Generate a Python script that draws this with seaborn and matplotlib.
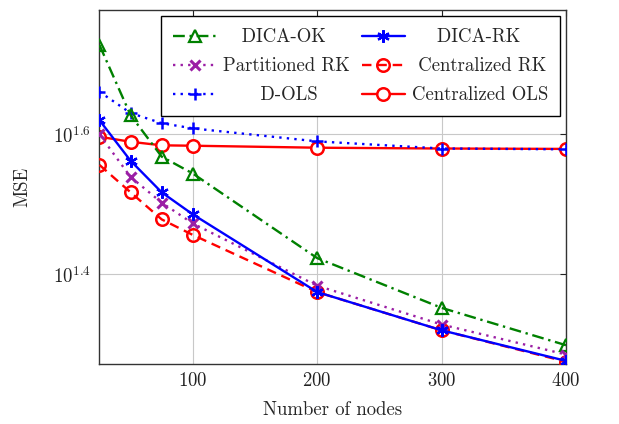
import matplotlib
matplotlib.use("Agg")
import matplotlib.pyplot as plt
import seaborn as sns
import pandas as pd
import numpy as np
from matplotlib.ticker import NullLocator, FixedLocator, FixedFormatter

nodes = [25, 50, 75, 100, 200, 300, 400]
dica_ok = [53.4, 42.4, 37.0, 35.0, 26.5, 22.5, 19.9]
dica_rk = [41.7, 36.5, 32.9, 30.6, 23.7, 20.9, 18.9]
part_rk = [39.8, 34.6, 31.8, 29.7, 24.2, 21.3, 19.3]
cent_rk = [36.0, 32.9, 30.1, 28.6, 23.7, 20.9, 18.85]
d_ols = [45.8, 42.7, 41.3, 40.6, 38.9, 38.0, 37.9]
cent_ols = [39.5, 38.85, 38.4, 38.35, 38.1, 38.0, 37.95]

sns.set_style("white")
plt.rcParams['font.family'] = ['serif']
plt.rcParams['font.serif'] = ['cmr10', 'DejaVu Serif']
plt.rcParams['mathtext.fontset'] = 'cm'
plt.rcParams['axes.formatter.use_mathtext'] = True
plt.rcParams['font.size'] = 13.5

fig = plt.figure(figsize=(6.19, 4.24), dpi=100)
ax = fig.add_axes([0.1607, 0.1415, 0.9144 - 0.1607, 0.9764 - 0.1415])

green = '#008000'
blue = '#0000ff'
purple = '#9b1fa5'
red = '#ff0000'

series = [
    ("Centralized OLS", cent_ols, dict(color=red, linestyle='-', marker='o', markersize=9,
                                       markerfacecolor='white', markeredgewidth=1.8), 2),
    ("D-OLS", d_ols, dict(color=blue, linestyle=(0, (1, 2.2)), marker='+', markersize=9,
                          markeredgewidth=1.8), 3),
    ("DICA-OK", dica_ok, dict(color=green, linestyle=(0, (5, 2, 1, 2)), marker='^', markersize=8,
                              markerfacecolor='none', markeredgewidth=1.6), 4),
    ("Centralized RK", cent_rk, dict(color=red, linestyle=(0, (4, 2.5)), marker='o', markersize=9,
                                     markerfacecolor='none', markeredgewidth=1.8), 5),
    ("Partitioned RK", part_rk, dict(color=purple, linestyle=(0, (1, 2.2)), marker='x', markersize=7,
                                     markeredgewidth=2.2), 6),
    ("DICA-RK", dica_rk, dict(color=blue, linestyle='-', marker=(6, 2, 0), markersize=9,
                              markeredgewidth=1.6), 7),
]

handles = {}
for name, vals, kw, z in series:
    df = pd.DataFrame({"Number of nodes": nodes, "MSE": vals})
    sns.lineplot(data=df, x="Number of nodes", y="MSE", ax=ax, linewidth=1.7,
                 markeredgecolor=kw['color'], zorder=z, label=name, **kw)
    handles[name] = ax.lines[-1]

ax.set_yscale('log')
ax.set_xlim(25, 400)
ax.set_ylim(10 ** 1.272, 10 ** 1.7776)
ax.xaxis.set_major_locator(FixedLocator([100, 200, 300, 400]))
ax.yaxis.set_major_locator(FixedLocator([10 ** 1.4, 10 ** 1.6]))
ax.yaxis.set_major_formatter(FixedFormatter([r'$10^{1.4}$', r'$10^{1.6}$']))
ax.yaxis.set_minor_locator(NullLocator())
ax.xaxis.set_minor_locator(NullLocator())
ax.tick_params(direction='in', length=4, width=0.8, top=True, right=True,
               labelsize=13.5, colors='#222222', pad=6)
ax.grid(True, color='#c8c8c8', linewidth=0.8)
ax.set_axisbelow(True)
for s in ax.spines.values():
    s.set_color('#333333')
    s.set_linewidth(1.0)

ax.set_xlabel("Number of nodes", fontsize=13.5, labelpad=8)
ax.set_ylabel("MSE", fontsize=13.5, labelpad=16)

order = ["DICA-OK", "Partitioned RK", "D-OLS", "DICA-RK", "Centralized RK", "Centralized OLS"]

# center legend labels within their column using leading spaces
renderer = fig.canvas.get_renderer()
def text_w(s):
    t = fig.text(0, 0, s, fontsize=13.5)
    w = t.get_window_extent(renderer).width
    t.remove()
    return w
space_w = text_w("a a") - text_w("aa")
labels = []
for col in (order[:3], order[3:]):
    widths = [text_w(s) for s in col]
    mw = max(widths)
    for s, w in zip(col, widths):
        n = int(round((mw - w) / 2 / space_w))
        labels.append(" " * n + s)

leg = ax.legend([handles[n] for n in order], labels, ncol=2, loc='upper right',
                bbox_to_anchor=(0.987, 0.982), frameon=True, fancybox=False,
                edgecolor='black', framealpha=1, numpoints=1, handlelength=2.3,
                columnspacing=0.65, handletextpad=0.35, borderpad=0.65, labelspacing=0.58,
                borderaxespad=0.0, fontsize=13.5)
leg.get_frame().set_linewidth(1.0)

fig.savefig("out.png", dpi=100)
